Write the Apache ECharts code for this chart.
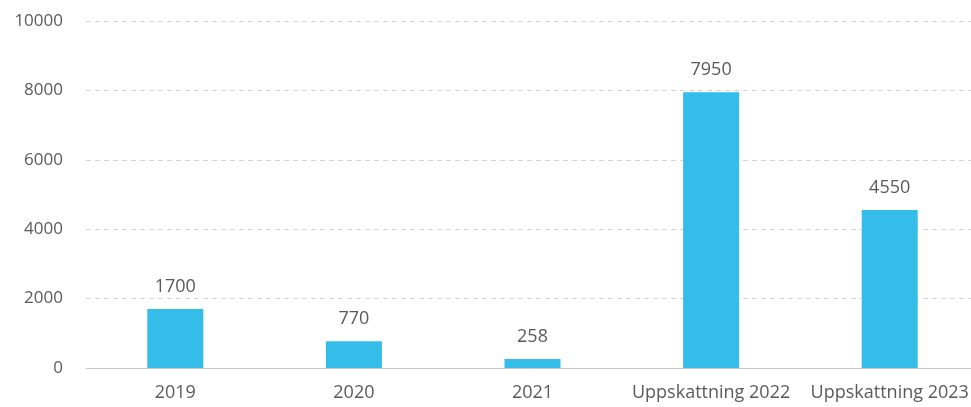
<!DOCTYPE html>
<html><head><meta charset="utf-8">
<script src="https://cdn.jsdelivr.net/npm/echarts@6/dist/echarts.min.js"></script>
<style>html,body{margin:0;padding:0;background:#fff;overflow:hidden}#c{width:979px;height:407px}</style>
</head><body><div id="c"></div>
<script>
const categories = ["2019", "2020", "2021", "Uppskattning 2022", "Uppskattning 2023"];
const values = [1700, 770, 258, 7950, 4550];
const yTicks = [0, 2000, 4000, 6000, 8000, 10000];

const chart = echarts.init(document.getElementById('c'));
chart.setOption({
  animation: false,
  grid: { left: 86, right: 0, top: 21, bottom: 39 },
  xAxis: {
    type: 'category',
    data: categories,
    axisTick: { show: false },
    axisLine: { lineStyle: { color: '#c8c8c8', width: 1 } },
    axisLabel: { interval: 0, color: '#5a5a5a', fontFamily: 'Open Sans', fontSize: 18, margin: 16 }
  },
  yAxis: {
    type: 'value',
    min: yTicks[0], max: yTicks[yTicks.length - 1], interval: 2000,
    axisLine: { show: false }, axisTick: { show: false },
    axisLabel: { color: '#5a5a5a', fontFamily: 'Open Sans', fontSize: 17, margin: 23, formatter: v => String(v) },
    splitLine: { lineStyle: { color: '#d4d4d4', type: [5, 4], width: 1 } }
  },
  series: [{
    type: 'bar',
    data: values,
    barWidth: 56,
    itemStyle: { color: '#35bdea' },
    label: { show: true, position: 'top', distance: 13, color: '#5a5a5a', fontFamily: 'Open Sans', fontSize: 18 }
  }]
});
</script></body></html>
